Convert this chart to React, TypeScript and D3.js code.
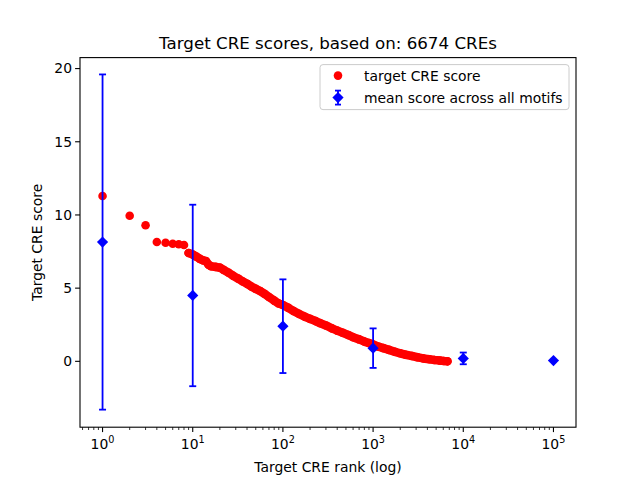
import React from "react";
import * as d3 from "d3";

// red: per-CRE score by rank
const RANKS = [
  1, 2, 3, 4, 5, 6, 7, 8, 9, 10, 11, 12, 13, 14, 15, 16, 18, 20, 22, 25, 28,
  32, 36, 40, 45, 50, 56, 63, 70, 80, 90, 100, 115, 130, 150, 175, 200, 230,
  260, 300, 350, 400, 460, 530, 600, 700, 800, 900, 1000, 1150, 1300, 1500,
  1750, 2000, 2300, 2700, 3100, 3600, 4200, 4800, 5500, 6100, 6674,
];
const SCORES = [
  11.3, 9.95, 9.3, 8.15, 8.1, 8.03, 8.0, 7.95, 7.4, 7.3, 7.15, 7.0, 6.9,
  6.85, 6.6, 6.5, 6.45, 6.4, 6.25, 6.05, 5.85, 5.65, 5.45, 5.3, 5.1, 4.95,
  4.8, 4.6, 4.4, 4.15, 3.95, 3.85, 3.65, 3.45, 3.25, 3.05, 2.9, 2.75, 2.6,
  2.45, 2.25, 2.1, 1.95, 1.8, 1.65, 1.5, 1.35, 1.25, 1.15, 1.0, 0.9, 0.78,
  0.65, 0.55, 0.45, 0.36, 0.28, 0.2, 0.14, 0.09, 0.05, 0.02, 0.0,
];

// blue: mean across motifs with error
const MEAN_RANKS = [1, 10, 100, 1000, 10000, 100000];
const MEAN_SCORES = [8.15, 4.5, 2.4, 0.9, 0.2, 0.05];
const MEAN_ERR = [11.45, 6.2, 3.2, 1.35, 0.4, 0];

const Y_TICKS = [0, 5, 10, 15, 20];
const X_TICKS = [0, 1, 2, 3, 4, 5];

const W = 640;
const H = 480;
const M = { left: 80, right: 64, top: 57.6, bottom: 52.8 };
const FONT = "DejaVu Sans, sans-serif";

export default function App() {
  const iw = W - M.left - M.right;
  const ih = H - M.top - M.bottom;
  const x = d3.scaleLog().domain([Math.pow(10, -0.25), Math.pow(10, 5.25)]).range([0, iw]);
  const y = d3.scaleLinear().domain([-4.5, 20.75]).range([ih, 0]);

  const minor: number[] = [];
  for (let e = -1; e <= 5; e++) {
    for (let k = 2; k <= 9; k++) {
      const v = k * Math.pow(10, e);
      if (v >= x.domain()[0] && v <= x.domain()[1]) minor.push(v);
    }
  }

  const pts = RANKS.map((r, i) => [r, SCORES[i]] as [number, number]);
  const band = d3
    .line<[number, number]>()
    .x((d) => x(d[0]))
    .y((d) => y(d[1]));
  const bandPts = pts.filter((d) => d[0] >= 9);

  const diamond = (cx: number, cy: number, r: number) =>
    `M${cx},${cy - r}L${cx + r},${cy}L${cx},${cy + r}L${cx - r},${cy}Z`;

  return (
    <svg
      width={W}
      height={H}
      style={{ position: "absolute", left: 0, top: 0 }}
      fontFamily={FONT}
    >
      <rect width={W} height={H} fill="#fff" />
      <text x={M.left + iw / 2} y={49} textAnchor="middle" fontSize={16.7}>
        Target CRE scores, based on: 6674 CREs
      </text>
      <g transform={`translate(${M.left},${M.top})`}>
        {/* red scatter drawn as dense markers */}
        <path d={band(bandPts) ?? ""} fill="none" stroke="#ff0000" strokeWidth={8.6} strokeLinecap="round" strokeLinejoin="round" />
        {pts.map((d, i) => (
          <circle key={i} cx={x(d[0])} cy={y(d[1])} r={4.3} fill="#ff0000" />
        ))}
        {/* blue error bars */}
        {MEAN_RANKS.map((r, i) => {
          const cx = x(r);
          const e = MEAN_ERR[i];
          const lo = y(MEAN_SCORES[i] - e);
          const hi = y(MEAN_SCORES[i] + e);
          return (
            <g key={i} stroke="#0000ff" strokeWidth={1.8}>
              {e > 0 && (
                <>
                  <line x1={cx} x2={cx} y1={lo} y2={hi} />
                  <line x1={cx - 3.5} x2={cx + 3.5} y1={lo} y2={lo} />
                  <line x1={cx - 3.5} x2={cx + 3.5} y1={hi} y2={hi} />
                </>
              )}
              <path d={diamond(cx, y(MEAN_SCORES[i]), 5.6)} fill="#0000ff" stroke="none" />
            </g>
          );
        })}
        {/* frame */}
        <rect width={iw} height={ih} fill="none" stroke="#000" strokeWidth={1.1} />
        {/* x ticks */}
        {minor.map((v, i) => (
          <line key={i} x1={x(v)} x2={x(v)} y1={ih} y2={ih + 2.8} stroke="#000" strokeWidth={0.8} />
        ))}
        {X_TICKS.map((e) => (
          <g key={e} transform={`translate(${x(Math.pow(10, e))},${ih})`}>
            <line y2={4.9} stroke="#000" strokeWidth={1.1} />
            <text y={22} textAnchor="middle" fontSize={13.9}>
              10<tspan dy={-6} fontSize={9.7}>{e}</tspan>
            </text>
          </g>
        ))}
        {/* y ticks */}
        {Y_TICKS.map((v) => (
          <g key={v} transform={`translate(0,${y(v)})`}>
            <line x2={-4.9} stroke="#000" strokeWidth={1.1} />
            <text x={-8} dy="0.35em" textAnchor="end" fontSize={13.9}>
              {v}
            </text>
          </g>
        ))}
        <text x={iw / 2} y={ih + 45} textAnchor="middle" fontSize={13.9}>
          Target CRE rank (log)
        </text>
        <text transform={`translate(${-38},${ih / 2}) rotate(-90)`} textAnchor="middle" fontSize={13.9}>
          Target CRE score
        </text>
        {/* legend */}
        <g transform={`translate(${iw - 256},7)`}>
          <rect width={249} height={45} rx={3} fill="#fff" fillOpacity={0.8} stroke="#cccccc" strokeWidth={1} />
          <circle cx={18} cy={11} r={4.3} fill="#ff0000" />
          <text x={44} y={16} fontSize={13.9}>target CRE score</text>
          <g stroke="#0000ff" strokeWidth={1.8}>
            <line x1={18} x2={18} y1={26} y2={40} />
            <line x1={15} x2={21} y1={26} y2={26} />
            <line x1={15} x2={21} y1={40} y2={40} />
            <path d={diamond(18, 33, 5.6)} fill="#0000ff" stroke="none" />
          </g>
          <text x={44} y={38} fontSize={13.9}>mean score across all motifs</text>
        </g>
      </g>
    </svg>
  );
}
